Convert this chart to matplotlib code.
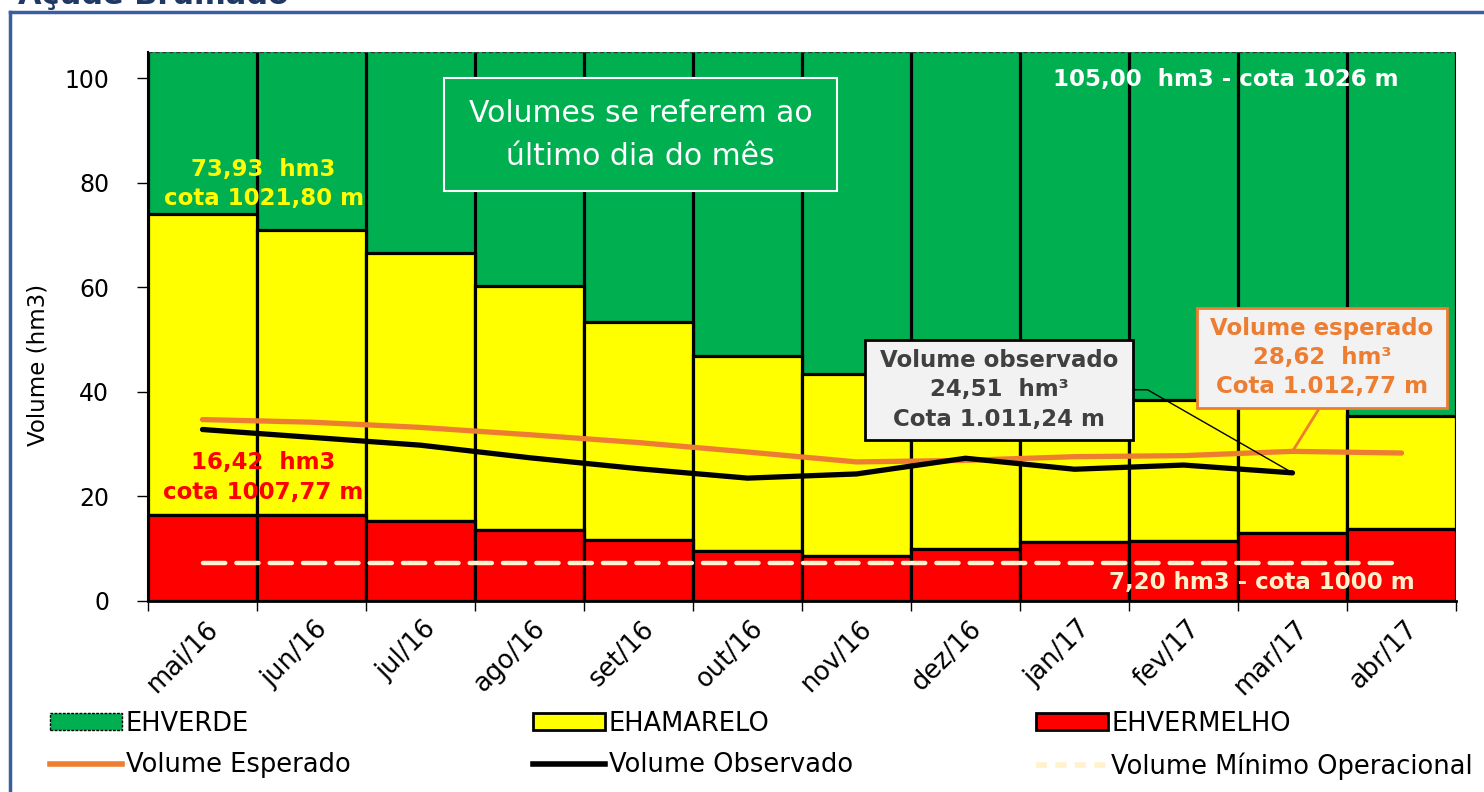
import numpy as np
import matplotlib.pyplot as plt
from matplotlib.patches import Rectangle, Patch
from matplotlib.lines import Line2D
import matplotlib.transforms as mtransforms

# dados (hm3) - leitura do grafico
meses = ['mai/16', 'jun/16', 'jul/16', 'ago/16', 'set/16', 'out/16',
         'nov/16', 'dez/16', 'jan/17', 'fev/17', 'mar/17', 'abr/17']
topo_vermelho = [16.42, 16.42, 15.3, 13.5, 11.6, 9.5, 8.6, 9.9, 11.2, 11.55, 13.1, 13.8]
topo_amarelo = [73.93, 70.9, 66.5, 60.3, 53.4, 46.9, 43.5, 40.5, 39.2, 38.4, 37.6, 35.3]
volume_maximo = 105.0
volume_esperado = [34.7, 34.2, 33.2, 31.8, 30.3, 28.5, 26.6, 26.9, 27.6, 27.8, 28.62, 28.3]
volume_observado = [32.8, 31.3, 29.8, 27.4, 25.3, 23.5, 24.3, 27.3, 25.2, 26.0, 24.51, np.nan]
volume_minimo = [7.2] * 12

x = np.arange(len(meses))
h_verm = np.array(topo_vermelho)
h_amar = np.array(topo_amarelo) - h_verm
h_verde = volume_maximo - np.array(topo_amarelo)

fig = plt.figure(figsize=(14.84, 7.92), dpi=100)
ax = fig.add_axes([148 / 1484, 1 - 601 / 792, 1308 / 1484, 549 / 792])

verde = '#00B050'
amarelo = '#FFFF00'
vermelho = '#FF0000'
laranja = '#ED7D31'
creme = '#FFF2CC'

# barras empilhadas
ax.bar(x, h_verde, bottom=topo_amarelo, width=1.0, color=verde, lw=0, zorder=1)
ax.bar(x, h_amar, bottom=h_verm, width=1.0, color=amarelo, edgecolor='black', lw=2.3, zorder=2)
ax.bar(x, h_verm, width=1.0, color=vermelho, edgecolor='black', lw=2.3, zorder=2)
ax.vlines(np.arange(-0.5, 12), 0, volume_maximo, color='black', lw=2.3, zorder=1.5)
ax.hlines(volume_maximo, -0.5, 11.5, color='#333333', lw=1, linestyles=(0, (3, 2)), zorder=1.5)

# linhas
ax.plot(x, volume_esperado, color=laranja, lw=3.8, solid_capstyle='round', zorder=4)
ax.plot(x, volume_observado, color='black', lw=3.8, solid_capstyle='round', zorder=5)
ax.plot(x, volume_minimo, color=creme, lw=3.2, dashes=(5, 2.5), dash_capstyle='round', zorder=4)

ax.set_xlim(-0.5, 11.5)
ax.set_ylim(0, 105)
ax.set_yticks(np.arange(0, 101, 20))
ax.set_ylabel('Volume (hm3)', fontsize=16.5)
ax.yaxis.set_label_coords(-0.075, 0.43)
ax.tick_params(axis='y', labelsize=17, length=8, width=1, pad=20)
for s in ['top', 'right']:
    ax.spines[s].set_visible(False)
ax.spines['left'].set_linewidth(1.5)
ax.spines['bottom'].set_linewidth(2)

ax.set_xticks(x)
ax.set_xticks(np.arange(-0.5, 12), minor=True)
ax.tick_params(axis='x', which='major', length=0, pad=0)
ax.tick_params(axis='x', which='minor', length=7, width=1)
labels = ax.set_xticklabels(meses, rotation=45, ha='right', va='center',
                            rotation_mode='anchor', fontsize=18.5)
off = mtransforms.ScaledTranslation(0.12, -0.24, fig.dpi_scale_trans)
for lb in labels:
    lb.set_transform(lb.get_transform() + off)

# textos
bold = dict(fontsize=16.5, fontweight='bold', ha='center', va='center', zorder=8,
            linespacing=1.35)
ax.text(0.56, 79.7, '73,93  hm3\ncota 1021,80 m', color=amarelo, **bold)
ax.text(0.56, 23.6, '16,42  hm3\ncota 1007,77 m', color=vermelho, **bold)
ax.text(9.39, 99.8, '105,00  hm3 - cota 1026 m', color='white', **bold)
ax.text(9.72, 3.45, '7,20 hm3 - cota 1000 m', color=creme, **bold)

ax.add_patch(Rectangle((2.22, 78.4), 3.6, 21.6, facecolor=verde, edgecolor='white', lw=1.5, zorder=7))
ax.text(4.02, 89.2, 'Volumes se referem ao\núltimo dia do mês', color='white', fontsize=21.5,
        ha='center', va='center', linespacing=1.6, zorder=8)

ax.add_patch(Rectangle((6.08, 30.8), 2.46, 19.2, facecolor='#F2F2F2', edgecolor='black', lw=2, zorder=7))
ax.text(7.31, 40.4, 'Volume observado\n24,51  hm³\nCota 1.011,24 m', color='#404040', **bold)
ax.plot([8.54, 8.67, x[10]], [40.4, 40.4, volume_observado[10]], color='black', lw=1, zorder=6)

ax.add_patch(Rectangle((9.12, 37.0), 2.3, 19.1, facecolor='#F2F2F2', edgecolor=laranja, lw=2, zorder=7))
ax.text(10.27, 46.6, 'Volume esperado\n28,62  hm³\nCota 1.012,77 m', color=laranja, **bold)
ax.plot([10.25, x[10]], [37.0, volume_esperado[10]], color=laranja, lw=2, zorder=6)

# legenda
handles = [
    Patch(facecolor=verde, edgecolor='black', lw=1, linestyle=(0, (2, 1))),
    Line2D([], [], color=laranja, lw=4),
    Patch(facecolor=amarelo, edgecolor='black', lw=2),
    Line2D([], [], color='black', lw=4),
    Patch(facecolor=vermelho, edgecolor='black', lw=2),
    Line2D([], [], color=creme, lw=4, dashes=(2, 1.5)),
]
nomes = ['EHVERDE', 'Volume Esperado', 'EHAMARELO', 'Volume Observado',
         'EHVERMELHO', 'Volume Mínimo Operacional']
fig.legend(handles, nomes, ncol=3, mode='expand', frameon=False, fontsize=18.5,
           bbox_to_anchor=(50 / 1484, 0.0, 1423 / 1484, 0.118), loc='center',
           handlelength=2.8, handleheight=0.6, handletextpad=0.15,
           labelspacing=0.62, borderpad=0, borderaxespad=0)

# moldura e titulo
fig.add_artist(Line2D([10 / 1484, 10 / 1484], [0, 1 - 12 / 792], color='#3B5DA1', lw=2.5))
fig.add_artist(Line2D([10 / 1484, 1], [1 - 12 / 792, 1 - 12 / 792], color='#3B5DA1', lw=2.5))
fig.text(18 / 1484, 1 - 4 / 792, 'Açude Brumado', color='#1F3864', fontsize=22,
         fontweight='bold', va='baseline', ha='left')

fig.savefig('out.png', dpi=100)
